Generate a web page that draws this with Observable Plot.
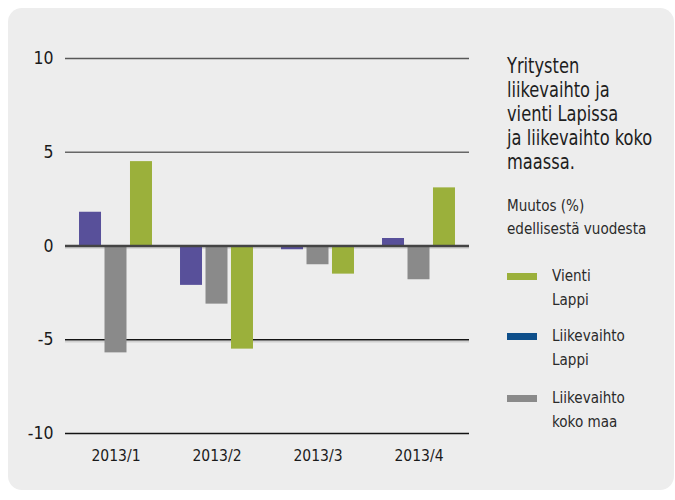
<!DOCTYPE html>
<html>
<head>
<meta charset="utf-8">
<script src="https://cdn.jsdelivr.net/npm/d3@7"></script>
<script src="https://cdn.jsdelivr.net/npm/@observablehq/plot@0.6"></script>
<style>
  html, body { margin: 0; padding: 0; background: #ffffff; }
  body { width: 675px; height: 500px; position: relative; overflow: hidden;
         font-family: "Liberation Sans Narrow", "DejaVu Sans Condensed", "Roboto", sans-serif; color: #222; }
  #panel { position: absolute; left: 8px; top: 8px; width: 666px; height: 482px;
           background: #ededed; border-radius: 14px; }
  #chart { position: absolute; left: 0; top: 0; }
  .title { position: absolute; left: 507px; top: 54px; font-size: 21px; line-height: 24px; white-space: nowrap; color: #1e1e1e;
           transform: scaleX(0.86); transform-origin: left top; }
  .subtitle { position: absolute; left: 507px; top: 194px; font-size: 16px; line-height: 23px; white-space: nowrap; color: #2a2a2a;
           transform: scaleX(0.94); transform-origin: left top; }
  .legend-item { position: absolute; left: 507px; height: 50px; width: 160px; }
  .legend-item .sw { position: absolute; left: 0; width: 30px; height: 7px; }
  .legend-item .lbl { position: absolute; left: 45px; top: 0; font-size: 16px; line-height: 23.5px; white-space: nowrap; color: #2a2a2a;
           transform: scaleX(0.94); transform-origin: left top; }
</style>
</head>
<body>
<div id="panel"></div>
<div id="chart"></div>
<div class="title">Yritysten<br>liikevaihto ja<br>vienti Lapissa<br>ja liikevaihto koko<br>maassa.</div>
<div class="subtitle">Muutos (%)<br>edellisestä vuodesta</div>
<div id="legend"></div>
<script>
const quarters = ["2013/1", "2013/2", "2013/3", "2013/4"];
const series = ["Liikevaihto Lappi", "Liikevaihto koko maa", "Vienti Lappi"];
const liikevaihtoLappi = [1.8, -2.1, -0.2, 0.4];
const liikevaihtoKokoMaa = [-5.7, -3.1, -1.0, -1.8];
const vientiLappi = [4.5, -5.5, -1.5, 3.1];
const yTicks = [-10, -5, 0, 5, 10];
const barColors = ["#58509a", "#8a8a8a", "#9bb03b"];

const legendLabels = [["Vienti", "Lappi"], ["Liikevaihto", "Lappi"], ["Liikevaihto", "koko maa"]];
const legendColors = ["#9bb03b", "#0e4f8a", "#8a8a8a"];

const values = [liikevaihtoLappi, liikevaihtoKokoMaa, vientiLappi];
const data = [];
quarters.forEach((q, i) => {
  series.forEach((s, j) => data.push({quarter: q, series: s, value: values[j][i]}));
});

const chart = Plot.plot({
  width: 675,
  height: 500,
  marginTop: 58,
  marginBottom: 67,
  marginLeft: 65,
  marginRight: 206,
  style: {background: "transparent", fontFamily: "'Liberation Sans Narrow', 'DejaVu Sans Condensed', sans-serif", color: "#1a1a1a", overflow: "visible"},
  fx: {domain: quarters, padding: 0, label: null},
  x: {domain: series, paddingInner: 0.137, paddingOuter: 0.55, axis: null, round: false},
  y: {domain: [-10, 10], label: null},
  color: {domain: series, range: barColors},
  marks: [
    Plot.ruleY([0, -5], {stroke: "#cfcfcf", strokeWidth: 1.5, dy: 2}),
    Plot.ruleY([10], {stroke: "#585858", strokeWidth: 1.3}),
    Plot.ruleY([5], {stroke: "#676767", strokeWidth: 1.3}),
    Plot.ruleY([-5, -10], {stroke: "#141414", strokeWidth: 1.3}),
    Plot.barY(data, {fx: "quarter", x: "series", y: "value", fill: "series"}),
    Plot.ruleY([0], {stroke: "#444444", strokeWidth: 2.5}),
    Plot.axisY({ticks: yTicks, tickFormat: d => String(d), tickSize: 0, tickPadding: 12, fontSize: 17.5, label: null}),
    Plot.axisFx({anchor: "bottom", tickSize: 0, tickPadding: 16, fontSize: 15.5, label: null})
  ]
});
document.getElementById("chart").appendChild(chart);

const legend = document.getElementById("legend");
const itemTops = [264, 324, 386];
legendLabels.forEach((lines, i) => {
  const item = document.createElement("div");
  item.className = "legend-item";
  item.style.top = itemTops[i] + "px";
  const sw = document.createElement("div");
  sw.className = "sw";
  sw.style.background = legendColors[i];
  sw.style.top = "9px";
  const lbl = document.createElement("div");
  lbl.className = "lbl";
  lbl.innerHTML = lines.join("<br>");
  item.appendChild(sw);
  item.appendChild(lbl);
  legend.appendChild(item);
});
</script>
</body>
</html>
